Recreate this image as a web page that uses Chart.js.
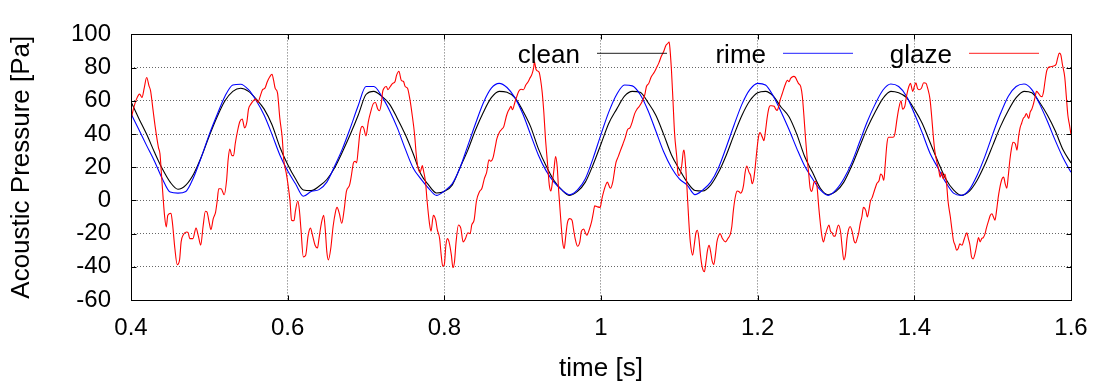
<!DOCTYPE html>
<html>
<head>
<meta charset="utf-8">
<title>Acoustic pressure - clean / rime / glaze</title>
<script src="https://cdn.jsdelivr.net/npm/chart.js@4.4.1/dist/chart.umd.min.js"></script>
<style>
  html, body { margin: 0; padding: 0; background: #ffffff; }
  #pressureChart { display: block; }
</style>
</head>
<body>
<canvas id="pressureChart" width="1102" height="389"></canvas>
<script>
// sample times for the clean and rime signals [s]
const timeS = [
  0.40, 0.41, 0.42, 0.43, 0.44, 0.45, 0.46, 0.47, 0.48, 0.49,
  0.50, 0.51, 0.52, 0.53, 0.54, 0.55, 0.56, 0.57, 0.58, 0.59,
  0.60, 0.61, 0.62, 0.63, 0.64, 0.65, 0.66, 0.67, 0.68, 0.69,
  0.70, 0.71, 0.72, 0.73, 0.74, 0.75, 0.76, 0.77, 0.78, 0.79,
  0.80, 0.81, 0.82, 0.83, 0.84, 0.85, 0.86, 0.87, 0.88, 0.89,
  0.90, 0.91, 0.92, 0.93, 0.94, 0.95, 0.96, 0.97, 0.98, 0.99,
  1.00, 1.01, 1.02, 1.03, 1.04, 1.05, 1.06, 1.07, 1.08, 1.09,
  1.10, 1.11, 1.12, 1.13, 1.14, 1.15, 1.16, 1.17, 1.18, 1.19,
  1.20, 1.21, 1.22, 1.23, 1.24, 1.25, 1.26, 1.27, 1.28, 1.29,
  1.30, 1.31, 1.32, 1.33, 1.34, 1.35, 1.36, 1.37, 1.38, 1.39,
  1.40, 1.41, 1.42, 1.43, 1.44, 1.45, 1.46, 1.47, 1.48, 1.49,
  1.50, 1.51, 1.52, 1.53, 1.54, 1.55, 1.56, 1.57, 1.58, 1.59,
  1.60
];

// clean airfoil [Pa]
const cleanP = [
  59.4, 49.4, 39.8, 29.0, 19.0, 11.0, 6.7, 9.2, 15.9, 26.4,
  38.9, 50.4, 60.0, 65.7, 67.6, 65.7, 61.0, 55.0, 45.6, 32.2,
  21.6, 13.0, 6.3, 5.9, 8.5, 12.6, 19.7, 29.3, 39.8, 51.3,
  63.8, 65.7, 62.8, 58.0, 49.4, 39.8, 28.4, 15.9, 9.2, 4.5,
  5.4, 9.2, 19.7, 30.3, 42.7, 53.3, 61.9, 65.7, 65.1, 61.9,
  54.2, 44.6, 31.2, 20.7, 12.0, 6.3, 3.0, 5.4, 11.0, 21.6,
  34.0, 46.5, 55.0, 62.8, 65.7, 65.1, 59.0, 51.3, 39.8, 27.4,
  18.8, 11.0, 6.0, 5.7, 9.2, 16.9, 27.4, 39.8, 51.3, 60.0,
  64.8, 65.7, 62.8, 56.1, 50.4, 39.8, 26.4, 16.9, 7.3, 3.4,
  5.4, 11.0, 20.7, 32.2, 43.7, 53.3, 61.5, 65.7, 64.8, 61.9,
  55.0, 46.5, 35.0, 23.6, 13.0, 6.3, 3.0, 5.4, 12.0, 21.6,
  33.0, 44.6, 54.2, 61.9, 65.7, 64.8, 59.0, 51.3, 41.8, 30.3,
  22.6
];

// rime ice [Pa]
const rimeP = [
  52.3, 42.7, 33.0, 23.6, 13.0, 5.0, 4.4, 5.4, 14.0, 26.4,
  39.8, 51.7, 62.8, 69.5, 70.0, 66.7, 60.0, 51.3, 39.8, 27.4,
  17.8, 10.0, 2.5, 5.4, 6.5, 11.0, 20.7, 31.2, 43.7, 57.0,
  68.6, 68.6, 62.8, 54.2, 43.7, 31.2, 19.7, 13.0, 7.3, 3.0,
  5.7, 10.0, 19.7, 33.0, 46.5, 59.0, 67.6, 70.5, 68.0, 61.9,
  52.3, 39.8, 27.4, 17.8, 11.0, 6.3, 3.4, 6.3, 13.0, 25.5,
  39.8, 53.3, 63.8, 69.5, 69.0, 63.8, 54.2, 41.8, 29.3, 19.7,
  13.0, 9.2, 3.5, 6.3, 11.0, 19.7, 32.2, 45.6, 58.0, 66.7,
  70.5, 69.5, 62.8, 53.3, 42.7, 31.2, 20.7, 13.0, 6.3, 3.0,
  6.3, 13.0, 22.6, 35.0, 47.5, 58.0, 66.5, 70.1, 68.6, 62.8,
  52.3, 40.8, 28.4, 19.7, 11.0, 4.4, 3.0, 6.3, 15.0, 26.4,
  39.8, 52.3, 62.8, 68.6, 70.1, 66.7, 58.0, 47.5, 36.0, 25.5,
  16.9
];

// glaze ice: sample times [s]
const glazeT = [
  0.400, 0.403, 0.407, 0.411, 0.414, 0.417, 0.420, 0.423, 0.425, 0.428,
  0.431, 0.435, 0.437, 0.439, 0.441, 0.443, 0.445, 0.447, 0.451, 0.453,
  0.456, 0.459, 0.462, 0.464, 0.467, 0.471, 0.473, 0.475, 0.479, 0.483,
  0.486, 0.489, 0.492, 0.495, 0.497, 0.500, 0.502, 0.505, 0.508, 0.510,
  0.512, 0.515, 0.519, 0.522, 0.524, 0.526, 0.529, 0.531, 0.533, 0.536,
  0.539, 0.542, 0.545, 0.548, 0.550, 0.553, 0.556, 0.559, 0.562, 0.565,
  0.568, 0.571, 0.574, 0.577, 0.580, 0.582, 0.584, 0.587, 0.590, 0.593,
  0.595, 0.598, 0.600, 0.603, 0.605, 0.608, 0.610, 0.613, 0.615, 0.617,
  0.620, 0.623, 0.626, 0.629, 0.632, 0.635, 0.638, 0.640, 0.643, 0.646,
  0.648, 0.650, 0.652, 0.655, 0.658, 0.661, 0.663, 0.666, 0.669, 0.672,
  0.675, 0.679, 0.681, 0.684, 0.686, 0.688, 0.690, 0.692, 0.695, 0.697,
  0.700, 0.703, 0.706, 0.709, 0.712, 0.715, 0.717, 0.720, 0.721, 0.723,
  0.726, 0.728, 0.731, 0.734, 0.737, 0.739, 0.742, 0.745, 0.748, 0.750,
  0.753, 0.756, 0.759, 0.762, 0.764, 0.766, 0.769, 0.772, 0.773, 0.776,
  0.778, 0.781, 0.783, 0.786, 0.789, 0.791, 0.794, 0.796, 0.798, 0.800,
  0.802, 0.804, 0.806, 0.809, 0.811, 0.813, 0.815, 0.818, 0.821, 0.824,
  0.827, 0.830, 0.833, 0.835, 0.838, 0.841, 0.845, 0.848, 0.851, 0.854,
  0.857, 0.859, 0.862, 0.865, 0.867, 0.870, 0.873, 0.876, 0.879, 0.881,
  0.883, 0.885, 0.887, 0.890, 0.892, 0.895, 0.898, 0.901, 0.904, 0.907,
  0.909, 0.912, 0.914, 0.915, 0.917, 0.919, 0.921, 0.923, 0.925, 0.927,
  0.929, 0.932, 0.934, 0.936, 0.938, 0.940, 0.942, 0.944, 0.946, 0.949,
  0.951, 0.953, 0.955, 0.957, 0.960, 0.963, 0.965, 0.967, 0.970, 0.973,
  0.975, 0.978, 0.980, 0.982, 0.985, 0.988, 0.990, 0.992, 0.995, 0.999,
  1.001, 1.004, 1.006, 1.008, 1.012, 1.015, 1.017, 1.019, 1.022, 1.025,
  1.028, 1.031, 1.034, 1.037, 1.040, 1.043, 1.046, 1.049, 1.053, 1.056,
  1.058, 1.061, 1.064, 1.068, 1.071, 1.074, 1.077, 1.080, 1.083, 1.085,
  1.087, 1.088, 1.090, 1.092, 1.094, 1.097, 1.098, 1.100, 1.103, 1.105,
  1.106, 1.108, 1.110, 1.112, 1.114, 1.117, 1.119, 1.121, 1.123, 1.125,
  1.127, 1.129, 1.132, 1.134, 1.136, 1.138, 1.140, 1.142, 1.144, 1.146,
  1.148, 1.150, 1.152, 1.155, 1.159, 1.162, 1.165, 1.167, 1.169, 1.172,
  1.174, 1.176, 1.178, 1.180, 1.182, 1.184, 1.186, 1.189, 1.191, 1.193,
  1.195, 1.197, 1.199, 1.201, 1.203, 1.206, 1.208, 1.210, 1.212, 1.214,
  1.216, 1.218, 1.221, 1.223, 1.225, 1.227, 1.229, 1.231, 1.233, 1.235,
  1.238, 1.240, 1.242, 1.244, 1.246, 1.248, 1.250, 1.252, 1.255, 1.257,
  1.259, 1.261, 1.263, 1.265, 1.267, 1.269, 1.272, 1.274, 1.276, 1.278,
  1.280, 1.282, 1.284, 1.286, 1.289, 1.291, 1.293, 1.295, 1.297, 1.299,
  1.301, 1.303, 1.306, 1.308, 1.310, 1.312, 1.314, 1.316, 1.318, 1.321,
  1.323, 1.325, 1.327, 1.329, 1.331, 1.333, 1.335, 1.338, 1.340, 1.342,
  1.344, 1.346, 1.348, 1.350, 1.352, 1.355, 1.357, 1.359, 1.361, 1.363,
  1.365, 1.367, 1.370, 1.373, 1.375, 1.378, 1.380, 1.383, 1.385, 1.388,
  1.390, 1.393, 1.395, 1.398, 1.400, 1.402, 1.404, 1.406, 1.409, 1.412,
  1.415, 1.417, 1.420, 1.422, 1.424, 1.426, 1.429, 1.431, 1.433, 1.435,
  1.437, 1.439, 1.441, 1.443, 1.446, 1.448, 1.450, 1.452, 1.454, 1.456,
  1.458, 1.461, 1.463, 1.465, 1.467, 1.469, 1.471, 1.473, 1.475, 1.478,
  1.480, 1.482, 1.484, 1.486, 1.488, 1.490, 1.492, 1.495, 1.497, 1.499,
  1.501, 1.503, 1.505, 1.507, 1.509, 1.512, 1.514, 1.516, 1.518, 1.520,
  1.522, 1.524, 1.526, 1.529, 1.531, 1.533, 1.535, 1.537, 1.539, 1.541,
  1.543, 1.546, 1.548, 1.550, 1.552, 1.554, 1.556, 1.558, 1.561, 1.563,
  1.565, 1.567, 1.569, 1.571, 1.574, 1.578, 1.581, 1.583, 1.585, 1.587,
  1.589, 1.592, 1.594, 1.596, 1.598, 1.600
];

// glaze ice: pressure [Pa]
const glazeP = [
  48.5, 55, 61, 64, 62, 68, 74, 69, 66, 55,
  44, 32, 28, 15, 1.5, -10, -16, -9, -7.7, -14,
  -29, -38.7, -35.8, -25, -20.5, -19, -19.5, -23, -23, -16.7,
  -21.5, -27, -15.7, -6.5, -7, -13.8, -17.6, -11, -7, -0.4,
  7, 7, 3.4, 12, 24.5, 31, 27, 27, 34, 41.8,
  47.5, 49, 43.7, 47.5, 55, 58, 60, 61, 59, 62.8,
  66.7, 67.6, 71.5, 74.3, 76, 72.4, 67.6, 64.8, 49.4, 38,
  24.5, 16.9, 11, -0.4, -12, -12.3, -6, -0.4, -6, -17.6,
  -34, -33, -21.5, -16.7, -21.5, -27, -28.7, -23, -13.8, -9,
  -17.6, -31, -35.8, -29, -15.7, -7, -4.2, -8, -13.8, -6,
  5.4, 9.2, 14, 22.6, 23.6, 22.6, 30.3, 39.8, 44.6, 43.7,
  38.9, 47.5, 53.3, 58, 59, 55, 54, 60, 64.8, 67.6,
  68.6, 66.7, 68.6, 70.5, 71.5, 75.3, 77.8, 72.4, 71.5, 68.6,
  67.6, 61, 51.3, 39.8, 28.4, 20.7, 16.9, 21, 18.8, 11,
  -0.4, -13.8, -18.6, -9, -11.9, -17.6, -23, -33, -39.7, -38.7,
  -27, -23, -25, -33, -40.6, -36.8, -25, -14.8, -16.7, -25,
  -23, -19.5, -20, -14.8, -11.9, -0.4, 5.4, 7.3, 13, 16.9,
  24.5, 23.6, 25.5, 32.2, 37, 40.8, 42.7, 44.6, 50.4, 53.3,
  55, 56.7, 54.6, 59, 61.9, 65.7, 67, 66.7, 69.5, 71.5,
  73.4, 76.2, 80, 83.5, 79, 78, 77.2, 72.4, 64.8, 53.3,
  38, 20.7, 9.2, 5.7, 11, 18.8, 26.4, 20.7, 5.4, -13.8,
  -25, -29, -21.5, -13.8, -11, -12, -17.6, -23, -27.6, -25,
  -18.6, -17.2, -19.5, -21, -17.6, -12.8, -8, -3.3, -3.8, -4.2,
  0.6, 6.3, 9.2, 11, 7.3, 11, 16.9, 22.6, 26.4, 30.3,
  34, 38, 42.7, 43.7, 47.5, 52.3, 55, 56.7, 60, 63.8,
  68.6, 70.5, 74.3, 77.2, 80, 83, 86.8, 89.7, 93.5, 94.4,
  95.4, 91.6, 78, 59, 39.8, 24.5, 16.9, 15, 20.7, 29.3,
  30.3, 20.7, 5.4, -11.9, -25, -33, -27, -20, -18, -23,
  -33, -39.7, -43, -37, -30, -27, -31, -36.8, -38.7, -33,
  -25, -21.5, -20, -23, -25, -23, -20.5, -15.7, -6, 3.4,
  5.7, 5.4, 4.4, 5.4, 9.2, 16.9, 20.7, 16.9, 15, 10,
  13, 20.7, 30.3, 38, 40.8, 38, 36, 41.8, 49.4, 55,
  57, 57, 56.7, 55, 54.2, 57, 61, 63.8, 66.7, 69.5,
  72.4, 71.5, 73.4, 74.3, 74.7, 74.3, 72.4, 70.5, 68.6, 62.8,
  51.3, 38, 26.4, 16.9, 7.3, 5.4, 11, 11.5, 7.3, -4.2,
  -13.8, -21.5, -25, -21.5, -16.7, -14.8, -18.6, -19.5, -21.5, -21.5,
  -17.6, -14.8, -19.5, -29, -35.8, -33, -23, -17.6, -15.7, -19.5,
  -24.3, -25.7, -23, -19.5, -13.8, -10, -4.2, -6, -10, -6,
  -0.4, 1.5, 4.4, 7.3, 10, 12, 15.9, 15, 12, 22.6,
  34, 38, 38, 38, 39.8, 49.4, 55, 60, 55, 57,
  62.8, 68.6, 70.5, 65.7, 68.6, 70.9, 67.6, 66.7, 67.6, 70.9,
  70.5, 67.6, 61, 51.3, 39.8, 30.3, 22.6, 18.8, 14, 16.9,
  13, 15.9, 11, -0.4, -10, -17.6, -24.3, -27, -30, -29,
  -26.2, -27, -24.3, -21.5, -19.5, -23, -27, -34, -35.2, -31,
  -26.2, -22.4, -25, -23, -22.4, -20.5, -16.7, -11.9, -9, -8,
  -10, -11.9, -6, 1.5, 7.3, 13, 14, 10, 7.3, 15,
  24.5, 31.2, 35, 34, 30.3, 38, 43.7, 46.5, 49.4, 50.4,
  52.3, 49.4, 53.3, 55, 58, 61.9, 65.7, 64.8, 62.8, 62.5,
  65.7, 72.4, 78, 80, 80.5, 81, 82, 85.8, 88.7, 87.7,
  82, 74.3, 62.8, 51.3, 45.6, 39.8
];

// axis ticks
const xTicks = [0.4, 0.6, 0.8, 1.0, 1.2, 1.4, 1.6];
const yTicks = [-60, -40, -20, 0, 20, 40, 60, 80, 100];

const FONT = '"Liberation Sans", Arial, Helvetica, sans-serif';

function toPoints(times, values) {
    return times.map((t, i) => ({ x: t, y: values[i] }));
}

// Frame, inward tick marks and the gnuplot-style key inside the plot
const frameAndKey = {
    id: 'frameAndKey',
    afterDatasetsDraw(chart) {
        const { ctx, chartArea: a, scales } = chart;
        const L = Math.round(a.left) + 0.5, R = Math.round(a.right) + 0.5;
        const T = Math.round(a.top) + 0.5, B = Math.round(a.bottom) + 0.5;
        ctx.save();
        ctx.strokeStyle = '#000000';
        ctx.lineWidth = 1;
        ctx.setLineDash([]);
        ctx.beginPath();
        xTicks.forEach(v => {
            const px = Math.round(scales.x.getPixelForValue(v)) + 0.5;
            ctx.moveTo(px, B); ctx.lineTo(px, B - 5);
            ctx.moveTo(px, T); ctx.lineTo(px, T + 5);
        });
        yTicks.forEach(v => {
            const py = Math.round(scales.y.getPixelForValue(v)) + 0.5;
            ctx.moveTo(L, py); ctx.lineTo(L + 5, py);
            ctx.moveTo(R, py); ctx.lineTo(R - 5, py);
        });
        ctx.stroke();
        ctx.strokeRect(L, T, R - L, B - T);

        // key: text right-aligned, sample line after it
        ctx.font = '26px ' + FONT;
        ctx.textAlign = 'right';
        ctx.textBaseline = 'alphabetic';
        chart.data.datasets.forEach((ds, i) => {
            const textRight = a.right - 491 + i * 186;
            ctx.fillStyle = '#000000';
            ctx.fillText(ds.label, textRight, a.top + 28.5);
            ctx.strokeStyle = ds.borderColor;
            ctx.globalAlpha = 0.7;
            ctx.lineWidth = 1.2;
            ctx.beginPath();
            ctx.moveTo(textRight + 17, a.top + 19);
            ctx.lineTo(textRight + 87, a.top + 19);
            ctx.stroke();
            ctx.globalAlpha = 1;
        });
        ctx.restore();
    }
};

const ctx = document.getElementById('pressureChart').getContext('2d');

new Chart(ctx, {
    type: 'line',
    data: {
        datasets: [{
            label: 'clean',
            data: toPoints(timeS, cleanP),
            borderColor: '#000000',
            cubicInterpolationMode: 'monotone',
            order: 3
        }, {
            label: 'rime',
            data: toPoints(timeS, rimeP),
            borderColor: '#0000ff',
            cubicInterpolationMode: 'monotone',
            order: 2
        }, {
            label: 'glaze',
            data: toPoints(glazeT, glazeP),
            borderColor: '#ff0000',
            cubicInterpolationMode: 'monotone',
            order: 1
        }]
    },
    options: {
        responsive: false,
        animation: false,
        devicePixelRatio: 1,
        layout: { padding: { top: 22, right: 31, bottom: 0, left: 0 } },
        elements: {
            point: { radius: 0 },
            line: { borderWidth: 1.1, fill: false }
        },
        plugins: {
            legend: { display: false },
            tooltip: { enabled: false }
        },
        scales: {
            x: {
                type: 'linear',
                min: 0.4,
                max: 1.6,
                afterFit: s => { s.height = 89; },
                afterBuildTicks: s => { s.ticks = xTicks.map(v => ({ value: v })); },
                grid: { color: '#666666', lineWidth: 1, drawTicks: false },
                border: { display: false, dash: [1, 2] },
                ticks: {
                    padding: 14,
                    color: '#000000',
                    font: { family: FONT, size: 24 },
                    maxRotation: 0,
                    callback: v => String(+v.toFixed(2))
                },
                title: {
                    display: true,
                    text: 'time [s]',
                    color: '#000000',
                    font: { family: FONT, size: 26 },
                    padding: { top: 0, bottom: 5 }
                }
            },
            y: {
                min: -60,
                max: 100,
                afterFit: s => { s.width = 131; },
                afterBuildTicks: s => { s.ticks = yTicks.map(v => ({ value: v })); },
                grid: { color: '#666666', lineWidth: 1, drawTicks: false },
                border: { display: false, dash: [1, 2] },
                ticks: {
                    padding: 20,
                    color: '#000000',
                    font: { family: FONT, size: 24 }
                },
                title: {
                    display: true,
                    text: 'Acoustic Pressure [Pa]',
                    color: '#000000',
                    font: { family: FONT, size: 26 },
                    padding: { top: 6, bottom: 0 }
                }
            }
        }
    },
    plugins: [frameAndKey]
});
</script>
</body>
</html>
